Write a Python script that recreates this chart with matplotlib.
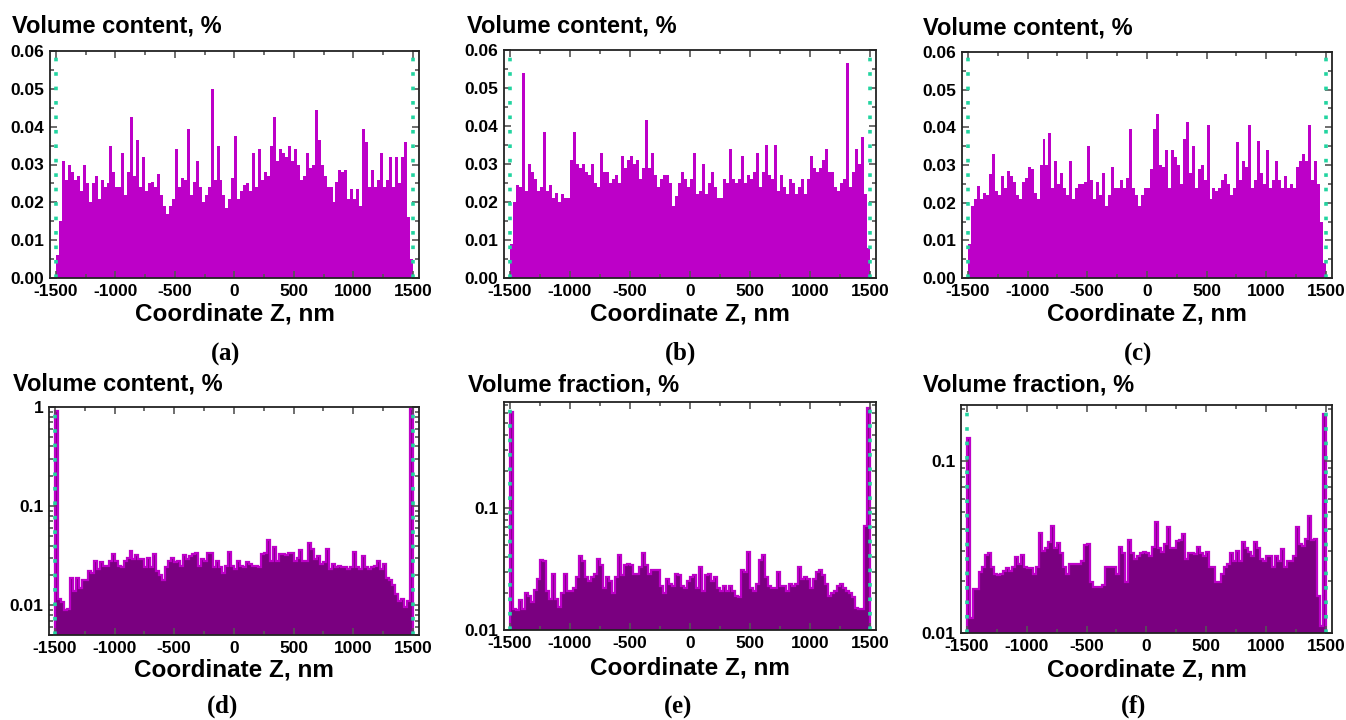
import numpy as np
import matplotlib
matplotlib.use("Agg")
import matplotlib.pyplot as plt
from matplotlib.ticker import MultipleLocator, FuncFormatter, LogLocator, NullFormatter

plt.rcParams['font.family'] = ['Liberation Sans', 'DejaVu Sans']
plt.rcParams['font.weight'] = 'bold'
plt.rcParams['mathtext.fontset'] = 'custom'
plt.rcParams['mathtext.rm'] = 'Liberation Serif'
plt.rcParams['mathtext.bf'] = 'Liberation Serif:bold'

# histogram bins, 25 nm wide, from -1500 to 1500 nm
bin_edges = np.arange(-1500, 1501, 25)

a_vals = [0.006, 0.015, 0.031, 0.026, 0.030, 0.028, 0.026, 0.027, 0.023, 0.030,
          0.025, 0.020, 0.025, 0.027, 0.021, 0.026, 0.024, 0.025, 0.035, 0.028,
          0.024, 0.024, 0.033, 0.022, 0.028, 0.0425, 0.027, 0.0365, 0.024, 0.032,
          0.023, 0.025, 0.0255, 0.024, 0.0275, 0.022, 0.019, 0.017, 0.019, 0.021,
          0.034, 0.024, 0.0265, 0.026, 0.0395, 0.022, 0.0255, 0.031, 0.024, 0.020,
          0.022, 0.024, 0.050, 0.026, 0.035, 0.026, 0.022, 0.0185, 0.021, 0.0265,
          0.0375, 0.021, 0.023, 0.0245, 0.025, 0.023, 0.033, 0.024, 0.034, 0.026,
          0.028, 0.027, 0.035, 0.0425, 0.031, 0.034, 0.033, 0.032, 0.035, 0.031,
          0.034, 0.030, 0.026, 0.027, 0.033, 0.029, 0.030, 0.0445, 0.0365, 0.030,
          0.027, 0.024, 0.024, 0.020, 0.0255, 0.0285, 0.028, 0.0285, 0.021, 0.0235,
          0.021, 0.0235, 0.019, 0.0395, 0.036, 0.024, 0.0285, 0.024, 0.026, 0.033,
          0.024, 0.026, 0.032, 0.024, 0.032, 0.025, 0.032, 0.036, 0.016, 0.005]

b_vals = [0.009, 0.020, 0.0245, 0.024, 0.054, 0.023, 0.030, 0.028, 0.026, 0.023,
          0.024, 0.0385, 0.023, 0.0245, 0.021, 0.0225, 0.020, 0.022, 0.021, 0.021,
          0.031, 0.0385, 0.030, 0.029, 0.030, 0.028, 0.027, 0.030, 0.025, 0.024,
          0.033, 0.028, 0.028, 0.025, 0.026, 0.027, 0.025, 0.032, 0.029, 0.031,
          0.032, 0.030, 0.031, 0.026, 0.029, 0.0415, 0.029, 0.033, 0.027, 0.024,
          0.026, 0.027, 0.027, 0.025, 0.019, 0.0215, 0.025, 0.028, 0.026, 0.024,
          0.026, 0.033, 0.022, 0.023, 0.030, 0.022, 0.025, 0.028, 0.024, 0.021,
          0.021, 0.026, 0.025, 0.034, 0.026, 0.025, 0.026, 0.032, 0.025, 0.027,
          0.026, 0.028, 0.033, 0.024, 0.028, 0.035, 0.027, 0.026, 0.035, 0.023,
          0.027, 0.024, 0.022, 0.026, 0.025, 0.022, 0.024, 0.026, 0.022, 0.026,
          0.032, 0.029, 0.028, 0.029, 0.031, 0.034, 0.028, 0.028, 0.024, 0.023,
          0.025, 0.026, 0.0565, 0.024, 0.028, 0.034, 0.030, 0.037, 0.022, 0.008]

c_vals = [0.009, 0.019, 0.021, 0.0245, 0.021, 0.0225, 0.022, 0.0275, 0.033, 0.023,
          0.022, 0.027, 0.024, 0.0285, 0.027, 0.0255, 0.022, 0.021, 0.0255, 0.0265,
          0.0295, 0.029, 0.0225, 0.021, 0.030, 0.037, 0.030, 0.0385, 0.024, 0.031,
          0.025, 0.028, 0.024, 0.022, 0.031, 0.021, 0.024, 0.025, 0.025, 0.0255,
          0.035, 0.026, 0.021, 0.0255, 0.022, 0.028, 0.019, 0.022, 0.0295, 0.024,
          0.024, 0.026, 0.024, 0.0265, 0.0395, 0.024, 0.022, 0.019, 0.022, 0.024,
          0.024, 0.029, 0.0395, 0.0435, 0.030, 0.0295, 0.034, 0.024, 0.034, 0.032,
          0.030, 0.025, 0.037, 0.0415, 0.028, 0.035, 0.024, 0.029, 0.030, 0.026,
          0.0405, 0.021, 0.024, 0.023, 0.024, 0.026, 0.0275, 0.025, 0.022, 0.024,
          0.036, 0.026, 0.031, 0.0295, 0.0405, 0.024, 0.026, 0.0365, 0.028, 0.025,
          0.034, 0.024, 0.026, 0.031, 0.026, 0.024, 0.027, 0.024, 0.025, 0.024,
          0.0295, 0.031, 0.033, 0.031, 0.0405, 0.026, 0.031, 0.025, 0.015, 0.004]

d_vals = [0.91, 0.0115, 0.0108, 0.0089, 0.0092, 0.019, 0.014, 0.019, 0.015, 0.018,
          0.018, 0.022, 0.021, 0.028, 0.023, 0.027, 0.025, 0.025, 0.028, 0.033,
          0.028, 0.025, 0.024, 0.028, 0.030, 0.035, 0.029, 0.032, 0.029, 0.029,
          0.024, 0.030, 0.024, 0.033, 0.022, 0.020, 0.018, 0.024, 0.028, 0.030,
          0.027, 0.028, 0.025, 0.032, 0.029, 0.031, 0.033, 0.034, 0.025, 0.029,
          0.028, 0.034, 0.034, 0.024, 0.028, 0.024, 0.021, 0.025, 0.0345, 0.025,
          0.023, 0.028, 0.025, 0.024, 0.027, 0.026, 0.025, 0.025, 0.024, 0.033,
          0.034, 0.045, 0.028, 0.039, 0.028, 0.033, 0.033, 0.032, 0.034, 0.034,
          0.028, 0.030, 0.036, 0.028, 0.028, 0.042, 0.037, 0.029, 0.031, 0.026,
          0.027, 0.037, 0.023, 0.026, 0.024, 0.025, 0.024, 0.024, 0.023, 0.024,
          0.0345, 0.024, 0.023, 0.031, 0.024, 0.023, 0.024, 0.025, 0.028, 0.023,
          0.026, 0.019, 0.018, 0.016, 0.013, 0.011, 0.0115, 0.0095, 0.011, 0.95]

e_vals = [0.61, 0.015, 0.0146, 0.0176, 0.015, 0.020, 0.019, 0.017, 0.0213, 0.026,
          0.0376, 0.0365, 0.021, 0.018, 0.029, 0.018, 0.0155, 0.020, 0.029, 0.021,
          0.021, 0.022, 0.027, 0.0406, 0.0365, 0.027, 0.025, 0.027, 0.029, 0.038,
          0.034, 0.022, 0.027, 0.025, 0.020, 0.027, 0.0413, 0.028, 0.034, 0.035,
          0.034, 0.029, 0.029, 0.033, 0.0427, 0.034, 0.029, 0.031, 0.031, 0.031,
          0.023, 0.020, 0.026, 0.024, 0.023, 0.029, 0.028, 0.023, 0.022, 0.025,
          0.027, 0.028, 0.022, 0.033, 0.021, 0.028, 0.029, 0.025, 0.027, 0.022,
          0.021, 0.023, 0.021, 0.023, 0.021, 0.019, 0.0185, 0.031, 0.030, 0.0432,
          0.022, 0.021, 0.024, 0.0376, 0.0413, 0.027, 0.023, 0.022, 0.022, 0.030,
          0.023, 0.023, 0.021, 0.024, 0.023, 0.024, 0.033, 0.026, 0.027, 0.026,
          0.022, 0.026, 0.030, 0.031, 0.028, 0.024, 0.019, 0.020, 0.021, 0.023,
          0.024, 0.022, 0.021, 0.020, 0.0185, 0.0152, 0.015, 0.0148, 0.0707, 0.664]

f_vals = [0.135, 0.0122, 0.0179, 0.0179, 0.0227, 0.0242, 0.0283, 0.0292, 0.024, 0.022,
          0.0217, 0.022, 0.023, 0.0237, 0.023, 0.024, 0.0275, 0.025, 0.0283, 0.024,
          0.0237, 0.0237, 0.022, 0.024, 0.0378, 0.030, 0.031, 0.0338, 0.0416, 0.031,
          0.0331, 0.029, 0.024, 0.022, 0.025, 0.025, 0.025, 0.025, 0.026, 0.0323,
          0.033, 0.0198, 0.0186, 0.0186, 0.0186, 0.019, 0.024, 0.0242, 0.024, 0.0242,
          0.022, 0.0316, 0.029, 0.0198, 0.0345, 0.029, 0.027, 0.028, 0.029, 0.0296,
          0.029, 0.028, 0.0316, 0.0441, 0.031, 0.0296, 0.033, 0.0412, 0.031, 0.031,
          0.034, 0.0345, 0.0374, 0.027, 0.029, 0.029, 0.0289, 0.0316, 0.029, 0.028,
          0.0296, 0.024, 0.024, 0.0198, 0.0198, 0.022, 0.024, 0.025, 0.0292, 0.026,
          0.030, 0.026, 0.0338, 0.031, 0.0296, 0.028, 0.0338, 0.031, 0.027, 0.026,
          0.028, 0.028, 0.024, 0.028, 0.026, 0.0307, 0.024, 0.026, 0.026, 0.028,
          0.0412, 0.033, 0.032, 0.0353, 0.048, 0.0345, 0.0353, 0.0163, 0.011, 0.186]

y_titles = ['Volume content, %', 'Volume content, %', 'Volume content, %',
            'Volume content, %', 'Volume fraction, %', 'Volume fraction, %']
letters = ['a', 'b', 'c', 'd', 'e', 'f']
x_label = 'Coordinate Z, nm'
film_edges = [-1500, 1500]

MAGENTA = '#BD00C8'
DARK = '#7A0080'
GREEN = '#22D4A0'

W, H = 1346, 720
fig = plt.figure(figsize=(W / 100, H / 100), dpi=100)

# axes boxes in pixels: left, right, top, bottom
boxes = [(50, 419, 51, 278), (504, 876, 50, 278), (962, 1332, 52, 278),
         (49, 419, 407, 635), (504, 876, 402, 630), (961, 1332, 405, 633)]
title_pos = [(12, 33), (467, 33), (923, 34), (13, 391), (468, 392), (923, 392)]
xlabel_y = [321, 321, 321, 677, 675, 677]
letter_pos = [(225, 360), (680, 360), (1137, 360), (222, 713), (677, 713), (1133, 713)]
log_limits = [(0.005, 1.0), (0.01, 0.74), (0.01, 0.21)]

all_vals = [a_vals, b_vals, c_vals, d_vals, e_vals, f_vals]


def style_axes(ax):
    for s in ax.spines.values():
        s.set_linewidth(1.3)
        s.set_color('#222222')
    ax.tick_params(which='both', direction='in', top=True, right=True,
                   colors='#555555', labelcolor='black', labelsize=12.5, width=1.2)
    ax.tick_params(which='major', length=5, pad=4)
    ax.tick_params(which='minor', length=3)
    ax.xaxis.set_major_locator(MultipleLocator(500))
    ax.xaxis.set_minor_locator(MultipleLocator(250))
    ax.xaxis.set_major_formatter(FuncFormatter(lambda v, p: '%d' % v))
    ax.set_xlim(-1550, 1552)
    for lab in ax.get_xticklabels() + ax.get_yticklabels():
        lab.set_fontweight('bold')


for k in range(6):
    l, r, t, b = boxes[k]
    ax = fig.add_axes([l / W, 1 - b / H, (r - l) / W, (b - t) / H])
    vals = np.array(all_vals[k])
    if k < 3:
        ax.stairs(vals, bin_edges, fill=True, color=MAGENTA, baseline=0)
        ax.set_ylim(0, 0.06)
        ax.yaxis.set_major_locator(MultipleLocator(0.01))
        ax.yaxis.set_minor_locator(MultipleLocator(0.005))
        ax.yaxis.set_major_formatter(FuncFormatter(lambda v, p: '%.2f' % v))
    else:
        ax.set_yscale('log')
        ax.stairs(vals, bin_edges, fill=True, color=DARK, baseline=1e-4)
        ax.stairs(vals, bin_edges, color=MAGENTA, baseline=1e-4, linewidth=1.6)
        ax.set_ylim(*log_limits[k - 3])
        ax.yaxis.set_major_locator(LogLocator(base=10))
        ax.yaxis.set_minor_locator(LogLocator(base=10, subs=np.arange(2, 10)))
        ax.yaxis.set_major_formatter(FuncFormatter(lambda v, p: '%g' % v))
        ax.yaxis.set_minor_formatter(NullFormatter())
    for z in film_edges:
        ax.axvline(z, color=GREEN, linewidth=2.6, linestyle=(0, (1.0, 3.0)))
    style_axes(ax)

    tx, ty = title_pos[k]
    fig.text(tx / W, 1 - ty / H, y_titles[k], fontsize=17, fontweight='bold',
             ha='left', va='baseline')
    fig.text((l + r) / 2 / W, 1 - xlabel_y[k] / H, x_label, fontsize=17.5,
             fontweight='bold', ha='center', va='baseline')
    lx, ly = letter_pos[k]
    fig.text(lx / W, 1 - ly / H, r'$\mathrm{(}\mathbf{%s}\mathrm{)}$' % letters[k],
             fontsize=18, ha='center', va='baseline')

fig.savefig('out.png', dpi=100)
